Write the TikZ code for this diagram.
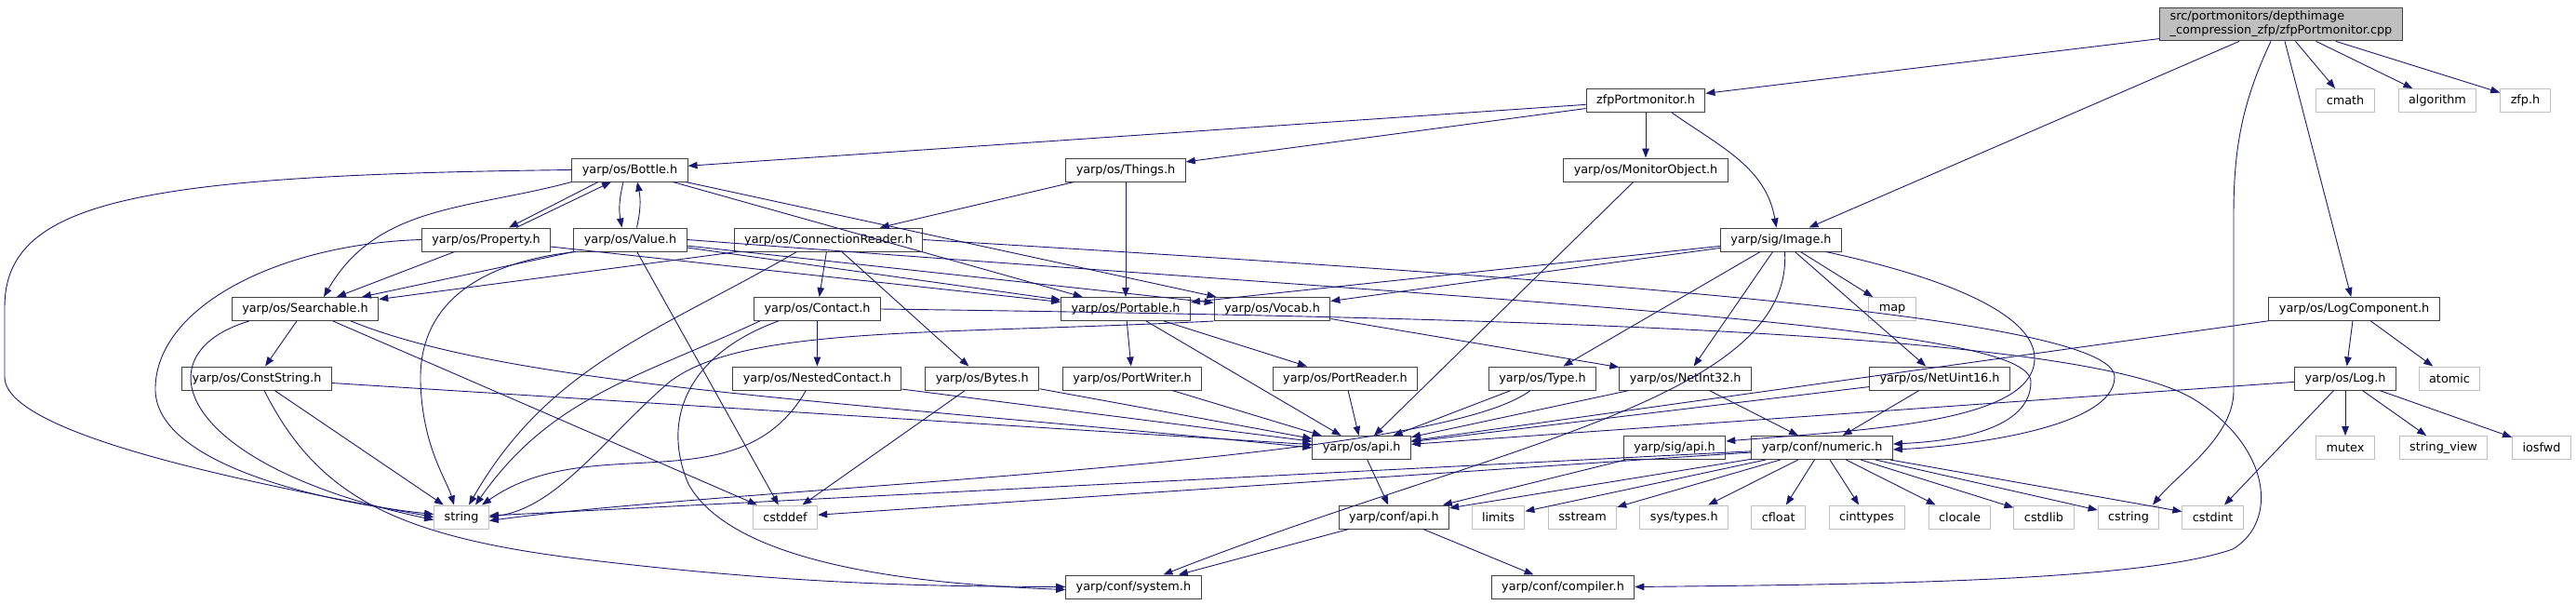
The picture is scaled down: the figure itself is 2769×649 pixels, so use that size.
\documentclass[tikz,border=0pt]{standalone}
\usepackage{fontspec}
\setmainfont{DejaVu Sans}
\usepackage{xcolor}
\usepackage{tikz}
\usetikzlibrary{arrows.meta}
\definecolor{edgeblue}{HTML}{191970}
\newcommand{\hdrfont}{\fontsize{12.8pt}{15pt}\selectfont}

\begin{document}
\begin{tikzpicture}[x=1pt,y=-1pt,
    hdr/.style={draw=black!75,line width=1pt,fill=white,font=\hdrfont,inner xsep=11pt,inner ysep=0pt,minimum height=25pt},
    syshdr/.style={hdr,draw=black!25},
    rootfile/.style={hdr,fill=black!25,align=left,inner ysep=4pt},
    inc/.style={draw=edgeblue,line width=0.9pt,-{Triangle[length=10pt,width=7.5pt]}}]
    \useasboundingbox (0,0) rectangle (2769,649);

    % Source file
    \node[rootfile] (cpp) at (2452,26) {src/portmonitors/depthimage\\\_compression\_zfp/zfpPortmonitor.cpp};

    % Headers, row by row
    \node[hdr] (zfpmon) at (1769,108) {zfpPortmonitor.h};
    \node[syshdr] (cmath) at (2521,108) {cmath};
    \node[syshdr] (algorithm) at (2620,108) {algorithm};
    \node[syshdr] (zfph) at (2714.5,108) {zfp.h};

    \node[hdr] (bottle) at (677,182.5) {yarp/os/Bottle.h};
    \node[hdr] (things) at (1210,182.5) {yarp/os/Things.h};
    \node[hdr] (monobj) at (1769,182.5) {yarp/os/MonitorObject.h};

    \node[hdr] (property) at (522.5,257.5) {yarp/os/Property.h};
    \node[hdr] (value) at (677.5,257.5) {yarp/os/Value.h};
    \node[hdr] (connreader) at (890.5,257.5) {yarp/os/ConnectionReader.h};
    \node[hdr] (image) at (1914.5,257.5) {yarp/sig/Image.h};

    \node[hdr] (searchable) at (328,332) {yarp/os/Searchable.h};
    \node[hdr] (contact) at (878.6,332) {yarp/os/Contact.h};
    \node[hdr] (portable) at (1210,332) {yarp/os/Portable.h};
    \node[hdr] (vocab) at (1367.5,332) {yarp/os/Vocab.h};
    \node[syshdr] (map) at (2034,332) {map};
    \node[hdr] (logcomp) at (2530.6,332) {yarp/os/LogComponent.h};

    \node[hdr] (conststr) at (276,406.5) {yarp/os/ConstString.h};
    \node[hdr] (nested) at (878.4,406.5) {yarp/os/NestedContact.h};
    \node[hdr] (bytes) at (1055.8,406.5) {yarp/os/Bytes.h};
    \node[hdr] (portwriter) at (1217,406.5) {yarp/os/PortWriter.h};
    \node[hdr] (portreader) at (1446,406.5) {yarp/os/PortReader.h};
    \node[hdr] (type) at (1658,406.5) {yarp/os/Type.h};
    \node[hdr] (netint) at (1811.7,406.5) {yarp/os/NetInt32.h};
    \node[hdr] (netuint) at (2085,406.5) {yarp/os/NetUint16.h};
    \node[hdr] (log) at (2521,406.5) {yarp/os/Log.h};
    \node[syshdr] (atomic) at (2633,406.5) {atomic};

    \node[hdr] (osapi) at (1463.7,481) {yarp/os/api.h};
    \node[hdr] (sigapi) at (1800,481) {yarp/sig/api.h};
    \node[hdr] (numeric) at (1958.6,481) {yarp/conf/numeric.h};
    \node[syshdr] (mutex) at (2521,481) {mutex};
    \node[syshdr] (strview) at (2626.5,481) {string\_view};
    \node[syshdr] (iosfwd) at (2732,481) {iosfwd};

    \node[syshdr] (string) at (496,555.5) {string};
    \node[syshdr] (cstddef) at (844,555.5) {cstddef};
    \node[hdr] (confapi) at (1498.3,555.5) {yarp/conf/api.h};
    \node[syshdr] (limits) at (1610.5,555.5) {limits};
    \node[syshdr] (sstream) at (1701,555.5) {sstream};
    \node[syshdr] (systypes) at (1810.3,555.5) {sys/types.h};
    \node[syshdr] (cfloat) at (1911.7,555.5) {cfloat};
    \node[syshdr] (cinttypes) at (2006.5,555.5) {cinttypes};
    \node[syshdr] (clocale) at (2106.5,555.5) {clocale};
    \node[syshdr] (cstdlib) at (2197,555.5) {cstdlib};
    \node[syshdr] (cstring) at (2288,555.5) {cstring};
    \node[syshdr] (cstdint) at (2378.6,555.5) {cstdint};

    \node[hdr] (system) at (1218.4,630.5) {yarp/conf/system.h};
    \node[hdr] (compiler) at (1680,630.5) {yarp/conf/compiler.h};

    % Includes of the source file
    \draw[inc] (cpp) -- (zfpmon);
    \draw[inc] ([xshift=-45pt]cpp.south) -- ([xshift=30pt]image.north);
    \draw[inc] (cpp) -- (cmath);
    \draw[inc] (cpp) -- (algorithm);
    \draw[inc] (cpp) -- (zfph);
    \draw[inc] ([xshift=4pt]cpp.south) -- (logcomp);
    \draw[inc] ([xshift=-11pt]cpp.south) .. controls (2410,110) and (2401,160) .. (2401,230) -- (2401,420) .. controls (2401,470) and (2340,510) .. ([xshift=26pt]cstring.north);

    % zfpPortmonitor.h
    \draw[inc] (zfpmon) -- (bottle);
    \draw[inc] (zfpmon) -- (things);
    \draw[inc] (zfpmon) -- (monobj);
    \draw[inc] ([xshift=28pt]zfpmon.south) to[out=-35,in=100] ([xshift=-5pt]image.north);

    % Bottle.h, Property.h, Value.h
    \draw[inc] (bottle.west) .. controls (150,188) and (5,215) .. (5,330) -- (5,405) .. controls (5,470) and (300,525) .. (string.west);
    \draw[inc] (bottle.south west) to[out=195,in=60] ([xshift=20pt]searchable.north);
    \draw[inc] ([xshift=-34pt]bottle.south) -- ([xshift=24.5pt]property.north);
    \draw[inc] ([xshift=32.5pt]property.north) -- ([xshift=-20pt]bottle.south);
    \draw[inc] ([xshift=-7pt]bottle.south) to[bend right=12] ([xshift=-9pt]value.north);
    \draw[inc] ([xshift=7pt]value.north) to[bend right=12] ([xshift=8pt]bottle.south);
    \draw[inc] (bottle) -- (portable);
    \draw[inc] (bottle) -- (vocab);
    \draw[inc] (property) -- (searchable);
    \draw[inc] (property) -- (portable);
    \draw[inc] (property.west) .. controls (300,262) and (165,330) .. (167,420) .. controls (170,500) and (350,540) .. ([yshift=3pt]string.west);
    \draw[inc] (value) -- (searchable);
    \draw[inc] (value) -- (portable);
    \draw[inc] (value) -- (vocab);
    \draw[inc] (value) -- (cstddef);
    \draw[inc] ([xshift=3pt]value.south west) .. controls (510,282) and (450,330) .. (452,410) .. controls (454,480) and (480,515) .. ([xshift=-8pt]string.north);
    \draw[inc] (value.east) .. controls (1700,330) and (2183,350) .. (2183,410) .. controls (2183,462) and (2100,474) .. ([yshift=4pt]numeric.east);

    % Searchable.h, ConstString.h
    \draw[inc] (searchable) -- (conststr);
    \draw[inc] ([xshift=-30pt]searchable.south east) .. controls (550,415) and (900,430) .. (osapi.west);
    \draw[inc] (searchable) -- (cstddef);
    \draw[inc] ([xshift=19pt]searchable.south west) .. controls (150,380) and (190,500) .. ([yshift=-3pt]string.west);
    \draw[inc] (conststr) -- (osapi);
    \draw[inc] (conststr) -- (string);
    \draw[inc] ([xshift=8pt]conststr.south) .. controls (340,530) and (420,575) .. (620,600) .. controls (850,628) and (1000,630) .. (system.west);

    % Things.h, ConnectionReader.h, Contact.h
    \draw[inc] (things) -- (connreader);
    \draw[inc] (things) -- (portable);
    \draw[inc] (connreader) -- (searchable);
    \draw[inc] (connreader) -- (contact);
    \draw[inc] (connreader) -- (bytes);
    \draw[inc] ([xshift=-34pt]connreader.south) to[out=-150,in=60] ([xshift=8pt]string.north);
    \draw[inc] (connreader.east) .. controls (1700,300) and (2273,340) .. (2273,405) .. controls (2273,462) and (2100,480) .. ([yshift=-2pt]numeric.east);
    \draw[inc] (contact) -- (nested);
    \draw[inc] ([xshift=-62pt]contact.south) to[out=-155,in=55] ([xshift=15pt]string.north);
    \draw[inc] ([xshift=-42pt]contact.south) .. controls (740,380) and (710,450) .. (740,520) .. controls (790,610) and (1000,628) .. ([yshift=-3pt]system.west);
    \draw[inc] (contact.east) .. controls (1700,342) and (2250,360) .. (2360,430) .. controls (2440,480) and (2450,560) .. (2400,590) .. controls (2300,625) and (2000,628) .. (compiler.east);

    % MonitorObject.h, Image.h
    \draw[inc] (monobj) -- (osapi);
    \draw[inc] (image) -- (portable);
    \draw[inc] (image) -- (vocab);
    \draw[inc] (image) -- (type);
    \draw[inc] (image) -- (netint);
    \draw[inc] (image) -- (netuint);
    \draw[inc] (image) -- (map);
    \draw[inc] ([xshift=4pt]image.south) .. controls (1928,430) and (1600,480) .. ([xshift=32pt]system.north);
    \draw[inc] ([xshift=48pt]image.south) .. controls (2100,300) and (2187,340) .. (2187,385) .. controls (2187,455) and (2000,462) .. ([yshift=7pt]sigapi.east);

    % Portable.h, Vocab.h
    \draw[inc] (portable) -- (portwriter);
    \draw[inc] (portable) -- (portreader);
    \draw[inc] (portable) -- (osapi);
    \draw[inc] (vocab) -- (netint);
    \draw[inc] (vocab.south west) .. controls (1000,360) and (800,350) .. (720,410) .. controls (650,470) and (600,545) .. (string.east);

    % LogComponent.h, Log.h
    \draw[inc] (logcomp) -- (log);
    \draw[inc] (logcomp) -- (atomic);
    \draw[inc] (logcomp) -- (osapi);
    \draw[inc] (log) -- (osapi);
    \draw[inc] (log) -- (mutex);
    \draw[inc] (log) -- (strview);
    \draw[inc] (log) -- (iosfwd);
    \draw[inc] (log) -- (cstdint);

    % Row of small headers
    \draw[inc] (nested) -- (osapi);
    \draw[inc] ([xshift=-12pt]nested.south) to[out=-120,in=35] ([xshift=22pt]string.north);
    \draw[inc] (bytes) -- (osapi);
    \draw[inc] (bytes) -- (cstddef);
    \draw[inc] (portwriter) -- (osapi);
    \draw[inc] (portreader) -- (osapi);
    \draw[inc] (type) -- (osapi);
    \draw[inc] ([xshift=-13pt]type.south) .. controls (1540,500) and (800,522) .. ([yshift=-4pt]string.east);
    \draw[inc] (netint) -- (osapi);
    \draw[inc] (netint) -- (numeric);
    \draw[inc] (netuint) -- (osapi);
    \draw[inc] (netuint) -- (numeric);

    % api.h and numeric.h
    \draw[inc] (osapi) -- (confapi);
    \draw[inc] (sigapi) -- (confapi);
    \draw[inc] (numeric) -- (confapi);
    \draw[inc] (numeric) -- (string);
    \draw[inc] (numeric) -- (cstddef);
    \draw[inc] (numeric) -- (limits);
    \draw[inc] (numeric) -- (sstream);
    \draw[inc] (numeric) -- (systypes);
    \draw[inc] (numeric) -- (cfloat);
    \draw[inc] (numeric) -- (cinttypes);
    \draw[inc] (numeric) -- (clocale);
    \draw[inc] (numeric) -- (cstdlib);
    \draw[inc] (numeric) -- (cstring);
    \draw[inc] (numeric) -- (cstdint);
    \draw[inc] (confapi) -- (system);
    \draw[inc] (confapi) -- (compiler);
\end{tikzpicture}
\end{document}
